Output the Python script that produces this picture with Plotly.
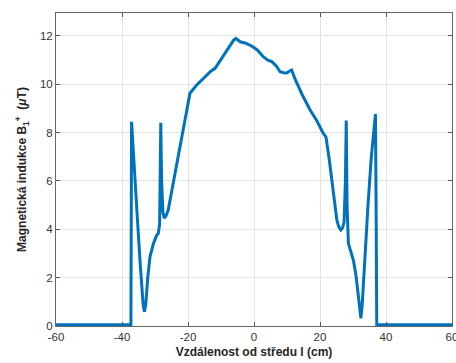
import plotly.graph_objects as go

# B1+ magnetic induction profile along the distance from the centre
distance_cm = [
    -60, -40, -37.3, -37.1, -36.6, -35.5, -34.5, -33.6, -33.2, -32.8, -32.2,
    -31.5, -30.5, -29.5, -29.0, -28.6, -28.25, -28.0, -27.6, -27.2, -26.7,
    -26.0, -24.5, -22.5, -21.0, -19.4, -17.5, -15.0, -13.0, -11.8, -10.0,
    -8.0, -6.2, -5.5, -5.0, -4.2, -2.5, -0.7, 1.0, 2.8, 4.2, 5.4, 6.8, 7.9,
    9.0, 9.9, 10.8, 11.4, 12.5, 14.5, 17.0, 19.0, 21.0, 21.8, 22.8, 23.8,
    24.6, 25.1, 25.7, 26.3, 26.8, 27.3, 27.7, 27.95, 28.2, 28.6, 29.3, 30.1,
    30.9, 31.6, 32.1, 32.4, 32.8, 33.5, 34.5, 35.5, 36.3, 36.8, 37.0, 37.2,
    40, 60,
]
b1_plus_uT = [
    0.05, 0.05, 0.05, 8.45, 7.2, 4.8, 2.6, 0.9, 0.59, 0.9, 2.0,
    2.87, 3.4, 3.75, 3.83, 4.2, 8.41, 6.0, 4.7, 4.46, 4.55,
    4.8, 5.9, 7.3, 8.4, 9.63, 9.95, 10.3, 10.55, 10.66, 11.05,
    11.45, 11.82, 11.9, 11.85, 11.76, 11.7, 11.58, 11.42, 11.14, 11.0, 10.94, 10.75, 10.52,
    10.48, 10.47, 10.55, 10.59, 10.2, 9.6, 8.94, 8.5, 7.97, 7.83, 6.9, 5.8,
    4.8, 4.39, 4.1, 3.97, 4.05, 4.3, 6.0, 8.5, 5.0, 3.42, 3.1, 2.73,
    2.1, 1.2, 0.55, 0.32, 0.9, 2.6, 4.9, 6.9, 8.2, 8.77, 5.0, 0.05,
    0.05, 0.05,
]

x_ticks = [-60, -40, -20, 0, 20, 40, 60]
y_ticks = [0, 2, 4, 6, 8, 10, 12]

fig = go.Figure(
    go.Scatter(
        x=distance_cm,
        y=b1_plus_uT,
        mode="lines",
        line=dict(color="#0072BD", width=3),
        showlegend=False,
    )
)

axis_common = dict(
    showline=True,
    linecolor="#666666",
    linewidth=1,
    mirror="ticks",
    ticks="inside",
    ticklen=4,
    tickcolor="#555555",
    showgrid=True,
    gridcolor="#e3e3e3",
    gridwidth=1,
    zeroline=False,
    automargin=False,
    ticklabeloverflow="allow",
    tickfont=dict(family="Liberation Sans, Arial, sans-serif", size=11.5, color="#333333"),
)

fig.update_xaxes(
    range=[-60, 60],
    tickvals=x_ticks,
    ticktext=[str(v) for v in x_ticks],
    title=dict(
        text="<b>Vzdálenost od středu l (cm)</b>",
        font=dict(family="Liberation Sans, Arial, sans-serif", size=12, color="#262626"),
        standoff=5,
    ),
    **axis_common,
)
fig.update_yaxes(
    range=[0, 12.95],
    tickvals=y_ticks,
    ticktext=[str(v) for v in y_ticks],
    title=dict(
        text="<b>Magnetická indukce B<sub>1</sub><sup>+</sup>  (<i>μ</i>T)</b>",
        font=dict(family="Liberation Sans, Arial, sans-serif", size=12, color="#262626"),
        standoff=10,
    ),
    **axis_common,
)

fig.update_layout(
    width=456,
    height=363,
    margin=dict(l=56, r=4, t=13, b=37),
    paper_bgcolor="white",
    plot_bgcolor="white",
)

fig.write_html("out.html")
